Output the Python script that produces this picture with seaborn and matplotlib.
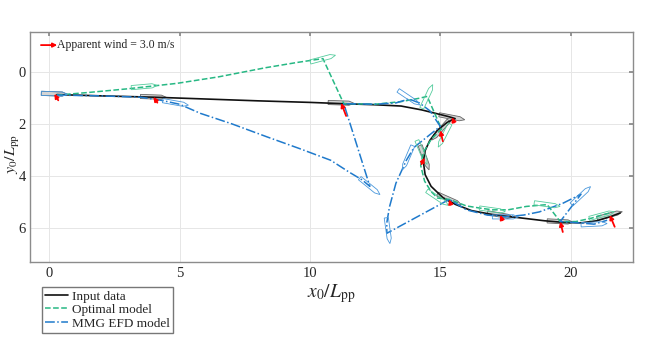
import numpy as np
import matplotlib
matplotlib.use("Agg")
import matplotlib.pyplot as plt
import seaborn as sns

# trajectories (x0/Lpp, y0/Lpp)
input_x = [0.3, 2.0, 4.0, 6.0, 8.0, 10.0, 11.3, 12.5, 13.5, 14.3, 14.9, 15.3, 15.57,
           15.26, 14.88, 14.6, 14.42, 14.35, 14.42, 14.65, 15.1, 15.6, 16.2, 17.0,
           18.0, 19.0, 19.7, 20.4, 21.0, 21.5, 21.9]
input_y = [0.88, 0.93, 0.98, 1.05, 1.12, 1.18, 1.23, 1.27, 1.32, 1.47, 1.62, 1.72, 1.8,
           1.95, 2.26, 2.64, 3.03, 3.45, 3.95, 4.4, 4.83, 5.1, 5.33, 5.48,
           5.6, 5.72, 5.78, 5.8, 5.72, 5.57, 5.42]

opt_x = [0.3, 1.5, 3.0, 4.9, 6.5, 8.3, 9.5, 10.5,
         11.3, 12.5, 13.5, 14.2, 14.5,
         15.05, 14.65, 14.35, 14.25, 14.4, 14.65, 14.9,
         15.35, 16.0, 16.5, 17.0, 17.6, 18.3, 19.1,
         19.6, 20.2, 20.8, 21.2, 21.5]
opt_y = [0.9, 0.8, 0.66, 0.45, 0.2, -0.15, -0.35, -0.5,
         1.23, 1.25, 1.15, 1.02, 0.95,
         2.2, 2.6, 3.1, 3.6, 4.2, 4.6, 4.85,
         4.9, 5.15, 5.23, 5.3, 5.3, 5.17, 5.1,
         5.75, 5.75, 5.62, 5.5, 5.42]

efd_x = [0.3, 2.0, 3.5, 4.3, 5.0, 5.8, 7.0, 8.35, 9.6, 10.8, 11.5, 12.0, 12.3,
         11.3, 12.5, 13.3, 13.8, 14.2, 14.6,
         15.0, 14.5, 14.0, 13.7, 13.3, 13.05, 12.95, 12.95,
         15.35, 16.0, 16.8, 17.5, 18.2, 18.8, 19.7, 20.2, 20.4,
         19.6, 20.3, 20.9, 21.4]
efd_y = [0.9, 0.93, 0.98, 1.1, 1.25, 1.6, 2.0, 2.5, 2.95, 3.4, 3.85, 4.15, 4.4,
         1.23, 1.25, 1.2, 1.05, 1.2, 1.5,
         2.1, 2.5, 2.9, 3.4, 4.28, 5.2, 5.8, 6.2,
         4.9, 5.3, 5.5, 5.57, 5.5, 5.38, 5.05, 4.8, 4.7,
         5.75, 5.8, 5.85, 5.7]

# ship snapshots: position and heading (deg)
input_ship_x = [0.2, 4.0, 11.2, 15.45, 15.0, 14.4, 15.35, 17.3, 19.6, 21.5]
input_ship_y = [0.85, 0.97, 1.2, 1.75, 2.25, 3.3, 4.9, 5.5, 5.75, 5.5]
input_ship_psi = [2, 2, 2, 11, 131, 70, 24, 10, 3, -15]

opt_ship_x = [3.65, 10.5, 14.5, 15.15, 14.3, 14.9, 17.0, 19.1, 21.2]
opt_ship_y = [0.57, -0.5, 0.95, 2.45, 3.1, 4.85, 5.3, 5.1, 5.5]
opt_ship_psi = [-5, -15, -65, 117, 67, 34, 8, 8, -15]

efd_ship_x = [0.2, 4.85, 12.3, 13.8, 13.75, 13.0, 17.5, 20.4, 20.9]
efd_ship_y = [0.85, 1.2, 4.4, 1.0, 3.3, 6.1, 5.57, 4.75, 5.85]
efd_ship_psi = [2, 10, 39, 34, 113, 82, 0, -43, -3]

# apparent wind arrows (tail offset from the ship)
wind_dx = [0.15, 0.15, 0.19, 0.08, 0.1, -0.12, 0.05, 0.08, 0.1, 0.19]
wind_dy = [0.25, 0.22, 0.5, 0.2, 0.42, 0.25, 0.2, 0.2, 0.4, 0.45]

GREEN = "#27b884"
BLUE = "#1f7acc"

HULL_U = np.array([-0.5, 0.3, 0.5, 0.3, -0.5, -0.5])
HULL_V = np.array([-0.08, -0.08, 0.0, 0.08, 0.08, -0.08])


def draw_ships(ax, xs, ys, psis, edge, face="none", lw=0.6, z=2):
    for x0, y0, p in zip(xs, ys, psis):
        r = np.deg2rad(p)
        px = x0 + np.cos(r) * HULL_U - np.sin(r) * HULL_V
        py = y0 + np.sin(r) * HULL_U + np.cos(r) * HULL_V
        ax.fill(px, py, facecolor=face, edgecolor=edge, lw=lw, zorder=z)


sns.set_theme(style="white")
plt.rcParams["font.family"] = ["Liberation Serif", "DejaVu Serif"]
plt.rcParams["mathtext.fontset"] = "stix"

fig = plt.figure(figsize=(6.48, 3.52), dpi=100)
ax = fig.add_axes([0.0463, 0.2565, 0.9306, 0.6526])

draw_ships(ax, input_ship_x, input_ship_y, input_ship_psi, edge="#666666", face="#d4d4d4", z=2)

sns.lineplot(x=input_x, y=input_y, sort=False, estimator=None, ax=ax, color="#111111",
             lw=1.2, label="Input data", zorder=3)
sns.lineplot(x=opt_x, y=opt_y, sort=False, estimator=None, ax=ax, color=GREEN,
             lw=1.1, linestyle="--", label="Optimal model", zorder=3)
sns.lineplot(x=efd_x, y=efd_y, sort=False, estimator=None, ax=ax, color=BLUE,
             lw=1.1, linestyle="-.", label="MMG EFD model", zorder=3)

draw_ships(ax, opt_ship_x, opt_ship_y, opt_ship_psi, edge="#55cc9d", z=4)
draw_ships(ax, efd_ship_x, efd_ship_y, efd_ship_psi, edge="#4a98dc", z=4)

for x0, y0, dx, dy in zip(input_ship_x, input_ship_y, wind_dx, wind_dy):
    ax.annotate("", xy=(x0, y0), xytext=(x0 + dx, y0 + dy),
                arrowprops=dict(arrowstyle="-|>", color="red", lw=1.3,
                                mutation_scale=6, shrinkA=0, shrinkB=0), zorder=6)

# wind legend in the corner
ax.annotate("", xy=(0.045, 0.943), xytext=(0.018, 0.943), xycoords="axes fraction",
            arrowprops=dict(arrowstyle="-|>", color="red", lw=1.3,
                            mutation_scale=6, shrinkA=0, shrinkB=0))
ax.text(0.045, 0.943, "Apparent wind = 3.0 m/s", transform=ax.transAxes,
        va="center", ha="left", fontsize=8.5)

ax.set_xlim(-0.73, 22.39)
ax.set_ylim(7.29, -1.52)
ax.set_aspect("equal", adjustable="box")
ax.set_xticks([0, 5, 10, 15, 20])
ax.set_yticks([0, 2, 4, 6])
ax.grid(True, color="#e6e6e6", lw=0.7)
ax.set_axisbelow(True)
ax.tick_params(direction="in", top=True, right=True, length=3, color="#888888",
               labelsize=10.5, pad=4)
ax.tick_params(axis="y", pad=3)
for s in ax.spines.values():
    s.set_color("#8c8c8c")
    s.set_linewidth(1.0)

ax.set_xlabel(r"$x_0/L_{\rm pp}$", fontsize=14, labelpad=1)
ax.set_ylabel(r"$y_0/L_{\rm pp}$", fontsize=11.5, va="center")
ax.yaxis.set_label_coords(-0.029, 0.47)

ax.legend(loc="upper left", bbox_to_anchor=(0.02, -0.11), frameon=True, fancybox=False,
          edgecolor="#777777", fontsize=9.5, handlelength=1.7, borderaxespad=0,
          handletextpad=0.3, borderpad=0.25, labelspacing=0.1, framealpha=1)

fig.savefig("out.png", dpi=100)
